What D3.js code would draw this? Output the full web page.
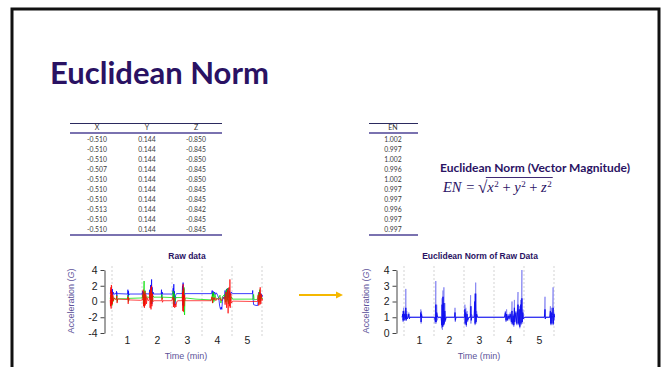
<!DOCTYPE html>
<html><head><meta charset="utf-8">
<script src="https://cdn.jsdelivr.net/npm/d3@7"></script>
<style>
html,body{margin:0;padding:0;background:#fff;}
svg{display:block;}
text{white-space:pre;}
</style></head>
<body>
<svg id="chart" width="667" height="367"></svg>
<script>
// ---------------- DATA ----------------
const tableX = [-0.510,-0.510,-0.510,-0.507,-0.510,-0.510,-0.510,-0.513,-0.510,-0.510];
const tableY = [0.144,0.144,0.144,0.144,0.144,0.144,0.144,0.144,0.144,0.144];
const tableZ = [-0.850,-0.845,-0.850,-0.845,-0.850,-0.845,-0.845,-0.842,-0.845,-0.845];
const tableEN = [1.002,0.997,1.002,0.996,1.002,0.997,0.997,0.996,0.997,0.997];
const tableHeaders = ["X","Y","Z"];

const rawTicks = [4,2,0,-2,-4];
const enTicks = [4,3,2,1,0];
const timeTicks = [1,2,3,4,5];
const gridTimes = [0.5,1.5,2.5,3.5,4.5,5.5];

// [time (min), acceleration (G)]
const rawBlue = [[0.44,1.0],[0.47,1.5],[0.48,0.7],[0.49,1.3],[0.50,0.6],[0.51,1.6],[0.52,0.8],[0.54,1.2],[0.56,0.9],[0.60,1.0],[0.64,1.0],[0.65,1.3],[0.66,0.7],[0.67,1.1],[0.70,1.0],
[1.02,0.95],[1.03,1.5],[1.04,0.6],[1.05,1.3],[1.06,0.8],[1.08,0.95],
[1.50,0.95],[1.52,1.3],[1.53,0.5],[1.55,1.2],[1.57,0.8],[1.60,1.0],[1.74,0.95],[1.76,1.5],[1.77,0.3],[1.79,2.1],[1.80,0.2],[1.82,2.8],[1.83,-0.3],[1.84,1.8],[1.85,0.5],[1.87,1.2],[1.89,0.95],
[2.14,0.95],[2.15,1.5],[2.16,0.5],[2.17,1.2],[2.19,0.95],
[2.52,0.95],[2.54,1.7],[2.55,0.2],[2.56,2.2],[2.57,-0.5],[2.58,1.3],[2.60,-0.4],[2.62,0.8],[2.65,1.0],[2.84,1.0],[2.85,2.0],[2.86,-0.5],[2.87,2.4],[2.88,0.0],[2.89,1.7],[2.91,0.5],[2.93,1.0],
[3.82,1.0],[3.84,1.4],[3.85,0.7],[3.87,1.3],[3.89,0.8],[3.92,1.2],[3.95,0.9],[3.98,1.1],[4.02,0.8],[4.06,0.4],[4.09,-0.6],[4.12,-1.0],[4.14,-0.7],[4.16,-1.0],[4.18,0.0],[4.20,0.6],[4.24,0.3],[4.27,1.4],[4.29,0.4],[4.32,1.6],[4.34,0.2],[4.37,1.7],[4.39,0.5],[4.42,1.3],[4.45,0.8],[4.48,1.2],[4.52,1.0],
[5.18,1.0],[5.19,1.4],[5.20,0.5],[5.22,-0.4],[5.30,-0.5],[5.36,-0.5],[5.38,0.6],[5.40,1.2],[5.41,0.2],[5.43,1.1],[5.45,0.3],[5.47,1.0],[5.50,0.6],[5.52,0.8]];

const rawGreen = [[0.44,0.3],[0.46,0.8],[0.47,-0.3],[0.49,1.0],[0.50,-0.5],[0.52,0.7],[0.54,0.0],[0.56,0.5],[0.60,0.3],[0.65,0.3],[0.66,0.8],[0.67,0.0],[0.69,0.35],
[1.02,0.35],[1.03,0.8],[1.05,0.0],[1.07,0.4],
[1.50,0.45],[1.53,0.9],[1.55,-0.3],[1.57,2.6],[1.58,-0.6],[1.60,1.4],[1.62,0.2],[1.65,0.6],[1.76,0.5],[1.78,1.2],[1.80,-0.3],[1.82,1.5],[1.84,0.0],[1.87,0.7],[1.90,0.55],
[2.15,0.55],[2.16,0.9],[2.17,0.3],[2.19,0.55],
[2.52,0.5],[2.54,1.3],[2.56,-0.4],[2.58,1.0],[2.60,0.0],[2.63,0.5],[2.84,0.5],[2.86,1.4],[2.88,-0.8],[2.90,1.8],[2.91,-1.4],[2.92,-1.7],[2.93,0.3],[2.95,0.45],
[3.30,0.3],[3.82,0.2],[3.85,1.0],[3.86,-0.2],[3.88,1.2],[3.90,0.0],[3.93,0.9],[3.97,0.3],[4.05,0.4],[4.10,0.8],[4.13,-0.2],[4.18,0.6],[4.25,0.9],[4.28,-0.1],[4.31,1.5],[4.33,0.0],[4.36,1.7],[4.38,-0.3],[4.41,1.2],[4.44,0.1],[4.48,0.6],[4.52,0.3],
[5.20,0.3],[5.22,0.9],[5.24,0.2],[5.36,0.3],[5.38,1.0],[5.40,-0.1],[5.42,1.5],[5.44,0.0],[5.47,0.8],[5.50,0.3],[5.52,0.4]];

const rawRed = [[0.44,0.2],[0.45,-0.6],[0.46,1.8],[0.47,-0.9],[0.48,2.1],[0.49,-0.5],[0.50,1.2],[0.51,-0.3],[0.53,0.8],[0.55,0.1],[0.58,0.4],[0.62,0.3],[0.65,0.3],[0.66,0.7],[0.67,-0.2],[0.69,0.3],
[1.02,0.25],[1.03,0.6],[1.04,-0.3],[1.05,0.5],[1.07,0.2],
[1.45,0.15],[1.52,0.2],[1.54,1.5],[1.55,-0.6],[1.57,1.0],[1.58,-0.8],[1.60,1.3],[1.61,-0.5],[1.63,0.9],[1.65,-0.3],[1.67,0.5],[1.70,0.1],[1.74,0.2],[1.76,1.2],[1.77,-0.8],[1.79,1.8],[1.80,-1.0],[1.82,2.0],[1.83,-0.6],[1.85,1.0],[1.87,0.0],[1.90,0.1],
[2.15,0.1],[2.17,0.5],[2.18,-0.1],[2.20,0.1],
[2.50,0.1],[2.53,0.6],[2.55,-0.7],[2.57,0.4],[2.59,-0.8],[2.61,-0.3],[2.63,-0.7],[2.66,0.0],[2.70,0.1],[2.84,0.1],[2.85,1.2],[2.86,-1.2],[2.87,2.2],[2.88,-1.3],[2.89,1.6],[2.90,-0.6],[2.92,0.8],[2.94,0.1],
[3.80,0.1],[3.83,0.6],[3.85,-0.2],[3.87,0.5],[3.90,0.2],[3.93,0.5],[3.96,0.1],[4.00,0.4],[4.05,0.2],[4.10,0.5],[4.14,0.1],[4.20,0.4],[4.25,0.6],[4.27,-0.4],[4.30,1.2],[4.32,-0.8],[4.35,1.5],[4.37,-1.5],[4.40,1.8],[4.42,-0.6],[4.43,2.8],[4.44,-0.8],[4.46,1.0],[4.48,-0.2],[4.52,0.05],
[5.20,0.0],[5.35,0.0],[5.37,0.8],[5.39,-0.5],[5.41,1.2],[5.43,-0.4],[5.44,1.8],[5.46,-0.3],[5.48,0.9],[5.50,0.1],[5.52,0.3]];

const enPeak = [[0.44,1.0],[0.46,1.4],[0.47,0.7],[0.49,1.6],[0.50,0.8],[0.52,1.3],[0.55,0.9],[0.56,2.8],[0.57,0.8],[0.59,1.4],[0.61,0.9],[0.64,1.0],[0.66,1.3],[0.68,0.9],[0.70,1.0],
[1.05,1.0],[1.06,1.5],[1.07,0.6],[1.08,1.4],[1.10,1.0],
[1.52,1.0],[1.54,0.6],[1.56,3.3],[1.57,0.6],[1.59,1.8],[1.61,0.8],[1.64,1.0],[1.74,1.0],[1.76,0.3],[1.77,2.2],[1.78,0.2],[1.80,2.7],[1.81,0.4],[1.83,2.9],[1.84,0.5],[1.86,1.9],[1.88,0.7],[1.90,1.0],
[2.19,1.0],[2.20,1.6],[2.21,0.7],[2.23,1.0],
[2.52,1.0],[2.53,1.8],[2.54,0.5],[2.56,1.6],[2.58,0.4],[2.60,1.4],[2.62,0.7],[2.66,1.0],[2.70,1.0],[2.72,2.4],[2.73,0.6],[2.75,1.2],[2.80,1.0],[2.84,1.0],[2.86,2.5],[2.87,0.5],[2.89,3.2],[2.90,0.6],[2.92,1.4],[2.95,1.0],
[3.85,1.0],[3.88,1.4],[3.90,0.7],[3.92,1.5],[3.94,0.8],[3.97,1.2],[4.00,0.8],[4.04,1.3],[4.08,0.6],[4.10,2.0],[4.11,0.5],[4.14,1.2],[4.16,0.4],[4.18,2.1],[4.19,0.6],[4.23,1.4],[4.26,0.5],[4.30,2.6],[4.31,0.5],[4.34,1.7],[4.36,0.3],[4.39,2.1],[4.40,0.5],[4.43,4.0],[4.44,0.6],[4.46,1.5],[4.48,0.9],[4.52,1.0],
[5.18,1.0],[5.20,2.3],[5.21,0.9],[5.23,1.0],[5.36,1.0],[5.38,1.7],[5.39,0.5],[5.41,1.6],[5.43,0.5],[5.45,1.2],[5.47,2.9],[5.48,0.5],[5.50,1.3],[5.52,0.8]];

const enCore = [[0.44,1.0],[0.46,1.2],[0.47,0.8],[0.49,1.4],[0.50,0.8],[0.52,1.2],[0.55,0.9],[0.56,1.6],[0.57,0.8],[0.59,1.2],[0.61,0.9],[0.64,1.0],[0.66,1.2],[0.68,0.9],[0.70,1.0],
[1.05,1.0],[1.06,1.3],[1.07,0.7],[1.08,1.2],[1.10,1.0],
[1.52,1.0],[1.55,0.7],[1.56,1.8],[1.57,0.7],[1.59,1.3],[1.62,1.0],[1.74,1.0],[1.76,0.5],[1.77,1.8],[1.78,0.4],[1.80,2.3],[1.81,0.5],[1.83,1.9],[1.84,0.6],[1.86,1.4],[1.88,0.8],[1.90,1.0],
[2.19,1.0],[2.20,1.3],[2.21,0.8],[2.23,1.0],
[2.52,1.0],[2.53,1.5],[2.54,0.6],[2.56,1.3],[2.58,0.5],[2.60,1.2],[2.62,0.8],[2.66,1.0],[2.72,1.0],[2.73,1.7],[2.74,0.8],[2.76,1.0],[2.84,1.0],[2.86,2.0],[2.87,0.6],[2.89,2.5],[2.90,0.7],[2.92,1.2],[2.95,1.0],
[3.85,1.0],[3.88,1.3],[3.90,0.8],[3.92,1.2],[3.94,0.8],[3.97,1.1],[4.00,0.9],[4.04,1.2],[4.08,0.7],[4.10,1.4],[4.11,0.6],[4.14,1.1],[4.16,0.5],[4.18,1.6],[4.19,0.7],[4.23,1.3],[4.26,0.6],[4.30,1.8],[4.31,0.6],[4.34,1.5],[4.36,0.4],[4.39,1.8],[4.40,0.6],[4.43,2.2],[4.44,0.7],[4.46,1.3],[4.48,0.9],[4.52,1.0],
[5.18,1.0],[5.20,1.5],[5.21,0.9],[5.23,1.0],[5.36,1.0],[5.38,1.4],[5.39,0.6],[5.41,1.3],[5.43,0.6],[5.45,1.1],[5.47,1.6],[5.48,0.6],[5.50,1.2],[5.52,1.0]];

// ---------------- DRAW ----------------
const svg = d3.select("#chart");
const PURPLE = "#2a1263";
const AXT = "#5d5299";

svg.append("rect").attr("width",667).attr("height",367).attr("fill","#fff");
// slide frame
svg.append("rect").attr("x",12).attr("y",9).attr("width",647).attr("height",380)
  .attr("fill","none").attr("stroke","#111").attr("stroke-width",3);

// title
svg.append("text").attr("x",50).attr("y",84).text("Euclidean Norm")
  .attr("font-family","Lato, 'Open Sans', sans-serif").attr("font-weight",700)
  .attr("font-size",31).attr("fill",PURPLE);

// ---- tables ----
const rowY = d3.scaleLinear().domain([0, tableX.length-1]).range([139.5, 229.5]);
const tFont = "Lato, 'Open Sans', sans-serif";
function drawTable(x0, x1, headers, colX, cols) {
  const g = svg.append("g");
  g.append("line").attr("x1",x0).attr("x2",x1).attr("y1",123.5).attr("y2",123.5)
    .attr("stroke","#2b2a5e").attr("stroke-width",1.2);
  g.append("line").attr("x1",x0).attr("x2",x1).attr("y1",133).attr("y2",133)
    .attr("stroke","#7a72b0").attr("stroke-width",1.8);
  g.append("line").attr("x1",x0).attr("x2",x1).attr("y1",235).attr("y2",235)
    .attr("stroke","#7a72b0").attr("stroke-width",1.8);
  headers.forEach((h,i)=>{
    g.append("text").attr("x",colX[i]).attr("y",130).attr("text-anchor","middle")
      .attr("font-family",tFont).attr("font-size",7).attr("fill","#333").text(h);
  });
  cols.forEach((col,i)=>{
    g.selectAll(null).data(col).enter().append("text")
      .attr("x",colX[i]).attr("y",(d,j)=>rowY(j)+2.4).attr("text-anchor","middle")
      .attr("font-family",tFont).attr("font-size",6.8).attr("fill","#3a3a3a")
      .text(d=>d.toFixed(3));
  });
}
drawTable(70,222,tableHeaders,[97,147,196],[tableX,tableY,tableZ]);
drawTable(369,418,["EN"],[393],[tableEN]);

// ---- formula block ----
svg.append("text").attr("x",440).attr("y",172).text("Euclidean Norm (Vector Magnitude)")
  .attr("font-family",tFont).attr("font-weight",700).attr("font-size",12).attr("fill",PURPLE);

(function formula(){
  const base = 192, fs = 14.5;
  const serif = "'Liberation Serif', 'DejaVu Serif', serif";
  let x = 443;
  function piece(str, opts={}) {
    const t = svg.append("text").attr("x",x).attr("y",base + (opts.dy||0))
      .attr("font-family",serif).attr("font-size",opts.fs||fs)
      .attr("font-style",opts.italic?"italic":"normal").attr("fill",PURPLE).text(str);
    const w = t.node().getComputedTextLength();
    x += w + (opts.gap||0);
    return t;
  }
  piece("EN",{italic:true, gap:1});
  piece(" = ");
  piece("\u221A",{fs:17, dy:1});
  const startBar = x - 1.5;
  piece("x",{italic:true, gap:0.5});
  piece("2",{fs:9,dy:-5});
  piece(" + ");
  piece("y",{italic:true, gap:0.5});
  piece("2",{fs:9,dy:-5});
  piece(" + ");
  piece("z",{italic:true, gap:0.5});
  piece("2",{fs:9,dy:-5});
  svg.append("line").attr("x1",startBar).attr("x2",x+1).attr("y1",base-14.5).attr("y2",base-14.5)
    .attr("stroke",PURPLE).attr("stroke-width",0.9);
})();

// ---- arrow ----
svg.append("line").attr("x1",299).attr("x2",337).attr("y1",295).attr("y2",295)
  .attr("stroke","#f5b800").attr("stroke-width",2);
svg.append("path").attr("d","M336,291.5 L343,295 L336,298.5 Z").attr("fill","#f5b800");

// ---- charts ----
const cFont = "'Liberation Sans', Arial, sans-serif";
function chart(opts) {
  const g = svg.append("g");
  const x = d3.scaleLinear().domain([0,6]).range([opts.x0, opts.x0 + 180]);
  const y = d3.scaleLinear().domain(opts.yDomain).range([333, 270]);
  // grid
  g.selectAll(null).data(gridTimes).enter().append("line")
    .attr("x1",d=>x(d)).attr("x2",d=>x(d)).attr("y1",266).attr("y2",336)
    .attr("stroke","#c8c8c8").attr("stroke-width",0.8).attr("stroke-dasharray","2,2");
  // series
  const line = d3.line().x(d=>x(d[0])).y(d=>y(d[1]));
  opts.series.forEach(s=>{
    g.append("path").datum(s.data).attr("d",line).attr("fill","none")
      .attr("stroke",s.color).attr("stroke-width",s.w||0.9).attr("stroke-opacity",s.op||1)
      .attr("stroke-linejoin","round");
  });
  // y axis
  const ya = g.append("g").attr("transform",`translate(${opts.axisX},0)`)
    .call(d3.axisLeft(y).tickValues(opts.yTicks).tickSize(4).tickSizeOuter(0).tickPadding(3)
      .tickFormat(d=>String(d)));
  ya.select(".domain").attr("stroke","#444");
  ya.selectAll(".tick line").attr("stroke","#444");
  ya.selectAll(".tick text").attr("font-family",cFont).attr("font-size",10.5).attr("fill","#222");
  // x axis labels
  const xa = g.append("g").attr("transform","translate(0,336)")
    .call(d3.axisBottom(x).tickValues(timeTicks).tickSize(0).tickPadding(1).tickFormat(d=>String(d)));
  xa.select(".domain").remove();
  xa.selectAll(".tick text").attr("font-family",cFont).attr("font-size",10.5).attr("fill","#222");
  // titles
  g.append("text").attr("x",opts.titleX).attr("y",259).attr("text-anchor","middle")
    .attr("font-family",cFont).attr("font-weight",700).attr("font-size",8.5).attr("fill",PURPLE)
    .text(opts.title);
  g.append("text").attr("x",opts.titleX - 1).attr("y",359).attr("text-anchor","middle")
    .attr("font-family",cFont).attr("font-size",9).attr("fill",AXT).text("Time (min)");
  const yl = g.append("text").attr("transform",`translate(${opts.ylabX},301) rotate(-90)`)
    .attr("text-anchor","middle").attr("font-family",cFont).attr("font-size",9).attr("fill",AXT);
  yl.append("tspan").text("Acceleration (");
  yl.append("tspan").attr("font-style","italic").text("G");
  yl.append("tspan").text(")");
}

chart({x0:97, axisX:104.5, yDomain:[-4,4], yTicks:rawTicks, title:"Raw data", titleX:187, ylabX:74,
  series:[
    {data:rawBlue, color:"#0000ff", op:0.85},
    {data:rawGreen, color:"#00e000", op:0.85},
    {data:rawRed, color:"#ff0000", op:0.8}
  ]});
chart({x0:389, axisX:396.5, yDomain:[0,4], yTicks:enTicks, title:"Euclidean Norm of Raw Data", titleX:480, ylabX:369,
  series:[
    {data:enPeak, color:"#7a7af0", op:0.75, w:1},
    {data:enCore, color:"#1010f0", op:1, w:1}
  ]});
</script>
</body></html>
